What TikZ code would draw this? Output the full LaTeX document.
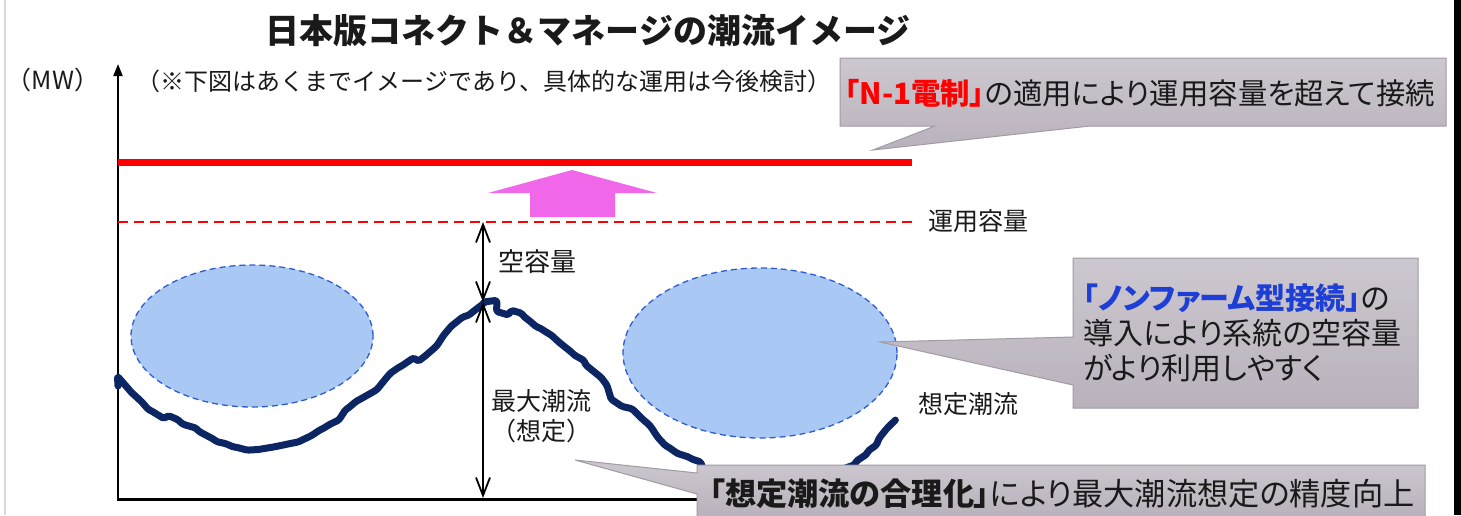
\documentclass[tikz,border=0pt]{standalone}
\usepackage{fontspec}
\newfontfamily\jp{Noto Sans CJK JP}
\newfontfamily\jpp{Noto Sans CJK JP}[RawFeature=+palt]
\usetikzlibrary{arrows.meta,decorations.pathmorphing,shapes.geometric}
\definecolor{navy}{HTML}{0C2563}
\definecolor{ellfill}{HTML}{A9C8F4}
\definecolor{elldraw}{HTML}{2F5BD3}
\definecolor{calltop}{HTML}{CDC7CF}
\definecolor{callbot}{HTML}{B9B2BC}
\definecolor{callline}{HTML}{A29AA5}
\definecolor{pinkarrow}{HTML}{F068E9}
\definecolor{jpblue}{HTML}{1E3FD6}
\definecolor{txt}{HTML}{1A1A1A}
\definecolor{jpred}{HTML}{FF0000}
\tikzset{
  lbl/.style={font=\jp\fontsize{#1}{#1}\selectfont, inner sep=0pt, text=txt},
  clbl/.style={font=\jpp\fontsize{#1}{#1}\selectfont, inner sep=0pt, text=txt},
  ell/.style={ellipse, fill=ellfill, draw=elldraw, line width=0.65pt, dash pattern=on 3pt off 2pt},
  callbox/.style={top color=calltop, bottom color=callbot, draw=callline, line width=0.5pt},
  dimarrow/.style={{Straight Barb[length=9pt,width=7pt]}-{Straight Barb[length=9pt,width=7pt]}, line width=0.9pt},
  flowcurve/.style={navy, line width=3.5pt, line join=round, line cap=round,
     decorate, decoration={random steps, segment length=5pt, amplitude=1.2pt}, rounded corners=0.8pt},
}
\begin{document}
\begin{tikzpicture}[x=0.5pt,y=-0.5pt]
\useasboundingbox (0,0) rectangle (1461,515);
% frame edges
\draw[black!15, line width=1pt] (5,0) -- (5,515);
\fill[black] (1454,0) rectangle (1461,515);
% title and headings
\node[lbl=17, font=\jp\bfseries\fontsize{17}{17}\selectfont] (title) at (588,31) {日本版コネクト＆マネージの潮流イメージ};
\node[lbl=12.5] (mw) at (53,80) {（MW）};
\node[lbl=12] (sub) at (484,81) {（※下図はあくまでイメージであり、具体的な運用は今後検討）};
% axes
\coordinate (origin) at (118,499);
\coordinate (ytop) at (118,64);
\coordinate (xend) at (900,499);
\draw[line width=1pt, -{Triangle[length=6pt,width=4.5pt]}] (origin) -- (ytop);
\draw[line width=1.5pt] ([xshift=-0.5pt]origin) -- (xend);
% capacity lines
\coordinate (nl) at (118,162.5);
\coordinate (nr) at (912,162.5);
\draw[jpred, line width=3.5pt] (nl) -- (nr);
\coordinate (dl) at (118,222);
\coordinate (dr) at (912,222);
\draw[jpred, line width=1.25pt, dash pattern=on 5pt off 3pt] (dl) -- (dr);
\node[lbl=12.5] (unyo) at (978,221) {運用容量};
% pink up arrow
\fill[pinkarrow] (530,217) -- (530,193) -- (488,193) -- (572,170) -- (657,193) -- (615,193) -- (615,217) -- cycle;
% ellipses
\node[ell, minimum width=121pt, minimum height=71pt] (e1) at (252,336) {};
\node[ell, minimum width=137pt, minimum height=85pt] (e2) at (760,353) {};
% flow curve
\pgfmathsetseed{7}
\draw[flowcurve] plot[smooth, tension=0.45] coordinates {(118,386) (133,394) (150,410) (167,415) (183,424) (200,432) (215,441) (235,447) (260,449) (283,445) (300,441) (327,426) (347,409) (377,389) (400,367) (417,362) (437,345) (453,325) (470,314) (483,302) (495,311) (510,310) (527,319) (543,330) (560,343) (573,354) (587,366) (600,376) (613,400) (633,410) (650,426) (667,446) (690,458) (705,470) (730,478) (770,482) (810,478) (840,470) (855,462) (867,452) (880,437) (887,427) (897,423)};
% dimension arrows
\coordinate (cap) at (483,222);
\coordinate (peak) at (483,302);
\coordinate (base) at (483,498);
\draw[dimarrow] (cap) -- (peak);
\draw[dimarrow] (peak) -- (base);
\node[lbl=13] (akiyo) at (537,262) {空容量};
\node[lbl=12.5, align=center, font=\jp\fontsize{12.5}{15}\selectfont] (maxflow) at (541,416) {最大潮流\\（想定）};
\node[lbl=12.5] (soutei) at (968,404) {想定潮流};
% callout 1 (top)
\path[callbox] (840,58) -- (1446,58) -- (1446,126) -- (1090,126) -- (873,150) -- (935,126) -- (840,126) -- cycle;
\node[clbl=14.7] (c1) at (1140,93) {{\bfseries\color{jpred}「N-1電制」}の適用により運用容量を超えて接続};
% callout 2 (right)
\path[callbox] (1073,258) -- (1418,258) -- (1418,408) -- (1073,408) -- (1073,385) -- (880,342) -- (1073,337) -- cycle;
\node[clbl=15, anchor=west, align=left, font=\jpp\fontsize{15}{17.5}\selectfont] (c2) at (1083,333) {{\bfseries\color{jpblue}「ノンファーム型接続」}の\\導入により系統の空容量\\がより利用しやすく};
% callout 3 (bottom)
\path[callbox] (697,465) -- (1425,465) -- (1425,517) -- (697,517) -- (697,494) -- (575,460) -- (697,473) -- cycle;
\node[clbl=15.6] (c3) at (1062,494) {{\bfseries 「想定潮流の合理化」}により最大潮流想定の精度向上};
\end{tikzpicture}
\end{document}
